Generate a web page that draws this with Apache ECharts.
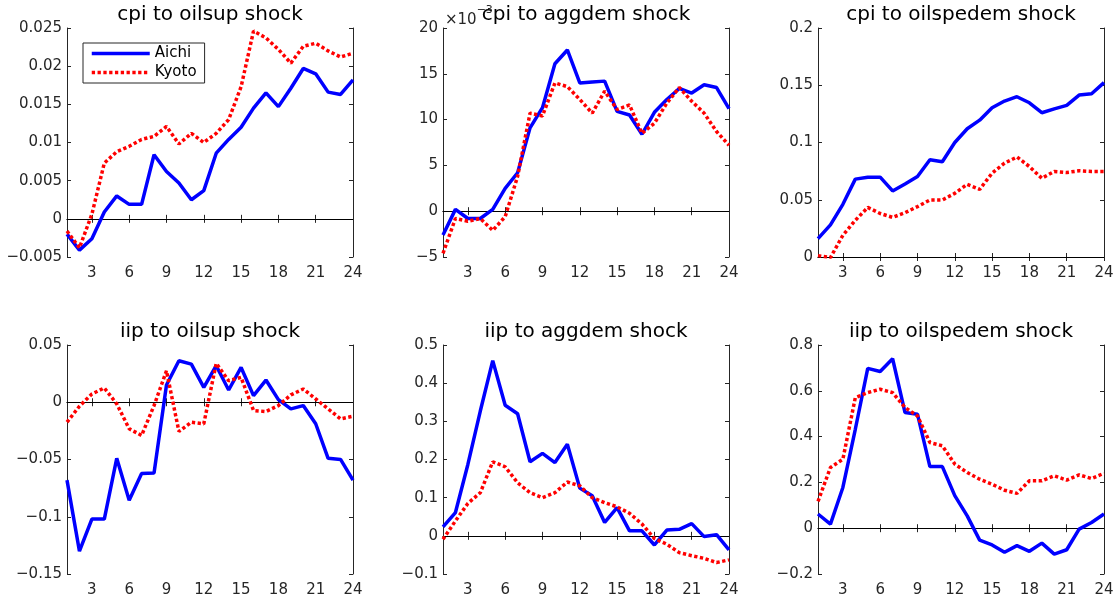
<!DOCTYPE html>
<html>
<head>
<meta charset="utf-8">
<script src="https://cdn.jsdelivr.net/npm/echarts@6/dist/echarts.min.js"></script>
<style>
html,body{margin:0;padding:0;background:#fff;}
#chart{width:1118px;height:604px;}
</style>
</head>
<body>
<div id="chart"></div>
<script>
// ---- data ----
const steps = [1,2,3,4,5,6,7,8,9,10,11,12,13,14,15,16,17,18,19,20,21,22,23,24];
const xTicks = [3,6,9,12,15,18,21,24];
const seriesNames = ['Aichi', 'Kyoto'];
const titles = ['cpi to oilsup shock', 'cpi to aggdem shock', 'cpi to oilspedem shock',
                'iip to oilsup shock', 'iip to aggdem shock', 'iip to oilspedem shock'];

// cpi to oilsup shock
const cpiOilsupAichi = [-0.0020,-0.0041,-0.0026,0.0009,0.0030,0.0019,0.0019,0.0084,0.0062,0.0047,0.0025,0.0037,0.0086,0.0104,0.0120,0.0145,0.0165,0.0147,0.0171,0.0197,0.0190,0.0166,0.0163,0.0182];
const cpiOilsupKyoto = [-0.0016,-0.0038,0.0006,0.0073,0.0088,0.0095,0.0104,0.0108,0.0121,0.0098,0.0112,0.0100,0.0112,0.0130,0.0173,0.0246,0.0237,0.0222,0.0204,0.0226,0.0230,0.0220,0.0212,0.0217];
// cpi to aggdem shock (x 10^-3)
const cpiAggdemAichi = [-2.6,0.2,-0.8,-0.8,0.2,2.5,4.2,9.1,11.3,16.1,17.6,14.0,14.1,14.2,10.9,10.5,8.4,10.8,12.2,13.4,12.9,13.8,13.5,11.2];
const cpiAggdemKyoto = [-4.6,-0.8,-1.1,-0.8,-2.1,-0.6,3.8,10.7,10.4,14.0,13.6,12.2,10.7,13.1,11.1,11.6,8.5,9.6,11.8,13.5,12.0,10.7,8.7,7.2];
// cpi to oilspedem shock
const cpiOilspedemAichi = [0.016,0.028,0.046,0.068,0.0697,0.0697,0.0577,0.0638,0.0703,0.0849,0.0832,0.100,0.112,0.1195,0.1303,0.1362,0.140,0.1347,0.126,0.1294,0.1324,0.1414,0.1426,0.1523];
const cpiOilspedemKyoto = [0.0012,-0.0005,0.019,0.032,0.0433,0.038,0.0346,0.0387,0.044,0.0498,0.0498,0.0556,0.0635,0.0591,0.0732,0.082,0.0873,0.079,0.0688,0.0747,0.0738,0.0753,0.0747,0.0747];
// iip to oilsup shock
const iipOilsupAichi = [-0.068,-0.130,-0.102,-0.102,-0.049,-0.0855,-0.0623,-0.0617,0.015,0.0362,0.0333,0.013,0.0319,0.0107,0.0304,0.0058,0.0194,0.0023,-0.0058,-0.0029,-0.0188,-0.049,-0.0499,-0.068];
const iipOilsupKyoto = [-0.0174,-0.0035,0.0072,0.0125,-0.0014,-0.0232,-0.029,-0.0029,0.0275,-0.0255,-0.0174,-0.0188,0.0339,0.0188,0.0217,-0.0072,-0.0081,-0.0029,0.0064,0.0116,0.0029,-0.0058,-0.0145,-0.0122];
// iip to aggdem shock
const iipAggdemAichi = [0.0235,0.061,0.187,0.327,0.459,0.342,0.320,0.194,0.216,0.192,0.240,0.125,0.105,0.035,0.074,0.013,0.013,-0.024,0.015,0.017,0.032,-0.002,0.003,-0.037];
const iipAggdemKyoto = [-0.009,0.039,0.085,0.113,0.194,0.181,0.139,0.113,0.100,0.113,0.141,0.131,0.100,0.087,0.076,0.059,0.031,-0.007,-0.022,-0.044,-0.052,-0.059,-0.070,-0.063];
// iip to oilspedem shock
const iipOilspedemAichi = [0.062,0.018,0.178,0.432,0.698,0.684,0.740,0.505,0.498,0.269,0.269,0.142,0.054,-0.052,-0.073,-0.105,-0.076,-0.101,-0.065,-0.113,-0.094,-0.004,0.025,0.062];
const iipOilspedemKyoto = [0.117,0.265,0.301,0.570,0.592,0.607,0.592,0.527,0.490,0.374,0.360,0.280,0.243,0.214,0.192,0.166,0.152,0.207,0.207,0.229,0.210,0.233,0.217,0.240];

// y-axis ranges [min, max, interval]
const yMins = [-0.005, -5, 0, -0.15, -0.1, -0.2];
const yMaxs = [0.025, 20, 0.2, 0.05, 0.5, 0.8];
const yIntervals = [0.005, 5, 0.05, 0.05, 0.1, 0.2];

const panelData = [
  [cpiOilsupAichi, cpiOilsupKyoto],
  [cpiAggdemAichi, cpiAggdemKyoto],
  [cpiOilspedemAichi, cpiOilspedemKyoto],
  [iipOilsupAichi, iipOilsupKyoto],
  [iipAggdemAichi, iipAggdemKyoto],
  [iipOilspedemAichi, iipOilspedemKyoto]
];

// ---- layout ----
const FONT = 'DejaVu Sans';
const AX = '#262626';
const lefts = [67, 443, 818];
const tops = [28, 345];
const W = 286, H = 229;

const grids = [], xAxes = [], yAxes = [], series = [], titleList = [];
for (let p = 0; p < 6; p++) {
  const col = p % 3, row = Math.floor(p / 3);
  grids.push({left: lefts[col], top: tops[row], width: W, height: H, containLabel: false});
  titleList.push({
    text: titles[p], left: lefts[col] + W / 2, top: row === 0 ? 5 : 322, textAlign: 'center', padding: 0,
    textStyle: {fontFamily: FONT, fontSize: 20, fontWeight: 'normal', color: '#000'}
  });
  const baseX = {
    type: 'value', gridIndex: p, min: 1, max: 24,
    axisLine: {show: true, lineStyle: {color: AX, width: 1}},
    splitLine: {show: false}
  };
  xAxes.push(Object.assign({}, baseX, {
    position: 'bottom',
    axisTick: {show: true, inside: true, length: 4, customValues: xTicks, lineStyle: {color: AX}},
    axisLabel: {show: true, customValues: xTicks, margin: 9, color: AX, fontFamily: FONT, fontSize: 15}
  }));
  xAxes.push(Object.assign({}, baseX, {
    position: 'top',
    axisTick: {show: true, inside: true, length: 4, customValues: xTicks, lineStyle: {color: AX}},
    axisLabel: {show: false}
  }));
  const baseY = {
    type: 'value', gridIndex: p, min: yMins[p], max: yMaxs[p], interval: yIntervals[p],
    axisLine: {show: true, onZero: false, lineStyle: {color: AX, width: 1}},
    axisTick: {show: true, inside: true, length: 4, lineStyle: {color: AX}},
    splitLine: {show: false}
  };
  yAxes.push(Object.assign({}, baseY, {
    position: 'left',
    axisLabel: {show: true, margin: 5, color: AX, fontFamily: FONT, fontSize: 15,
      formatter: v => String(+v.toFixed(6)).replace('-', '\u2212')}
  }));
  yAxes.push(Object.assign({}, baseY, {position: 'right', axisLabel: {show: false}}));

  series.push({
    name: seriesNames[0], type: 'line', xAxisIndex: 2 * p, yAxisIndex: 2 * p,
    data: steps.map((s, i) => [s, panelData[p][0][i]]),
    symbol: 'none', smooth: false, z: 3,
    lineStyle: {color: '#0000ff', width: 3.5, type: 'solid'},
    itemStyle: {color: '#0000ff'},
    markLine: {
      silent: true, symbol: 'none', label: {show: false},
      lineStyle: {color: '#000', width: 1, type: 'solid'},
      data: [{yAxis: 0}], z: 1
    }
  });
  series.push({
    name: seriesNames[1], type: 'line', xAxisIndex: 2 * p, yAxisIndex: 2 * p,
    data: steps.map((s, i) => [s, panelData[p][1][i]]),
    symbol: 'none', smooth: false, z: 4,
    lineStyle: {color: '#ff0000', width: 3.5, type: [3.3, 2.5], cap: 'butt'},
    itemStyle: {color: '#ff0000'}
  });
}

const chart = echarts.init(document.getElementById('chart'), null, {renderer: 'canvas'});
chart.setOption({
  animation: false,
  backgroundColor: '#fff',
  title: titleList,
  grid: grids,
  xAxis: xAxes,
  yAxis: yAxes,
  series: series,
  legend: {
    data: seriesNames, orient: 'vertical', left: 83, top: 43,
    itemWidth: 58, itemHeight: 14, itemGap: 4,
    padding: [3, 8, 3, 7],
    borderColor: AX, borderWidth: 1, backgroundColor: '#fff',
    itemStyle: {opacity: 0},
    lineStyle: {width: 3.5},
    textStyle: {fontFamily: FONT, fontSize: 15, color: '#000'},
    selectedMode: false
  },
  graphic: [{
    type: 'text', left: 445, top: 5, z: 0,
    style: {
      text: '{a|\u00d710}{b|\u22123}',
      rich: {
        a: {fontFamily: FONT, fontSize: 15, fill: AX, verticalAlign: 'bottom', padding: [8, 0, 0, 0]},
        b: {fontFamily: FONT, fontSize: 11, fill: AX, verticalAlign: 'top', padding: [0, 0, 8, 0]}
      }
    }
  }]
});
</script>
</body>
</html>
